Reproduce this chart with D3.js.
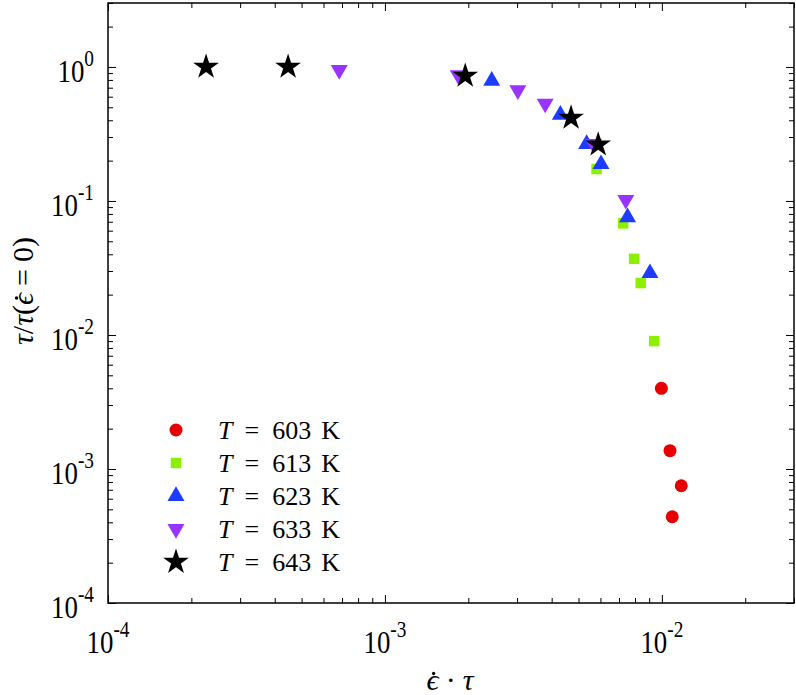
<!DOCTYPE html>
<html><head><meta charset="utf-8">
<script src="https://cdn.jsdelivr.net/npm/d3@7"></script>
<style>body{margin:0;background:#fff}svg{display:block}</style>
</head><body>
<script>
// ---- data ----
const legendTemps = ["603", "613", "623", "633", "643"];
const x603 = [9.96e-3, 1.07e-2, 1.175e-2, 1.09e-2];
const y603 = [4.0e-3, 1.37e-3, 7.5e-4, 4.4e-4];
const x613 = [5.81e-3, 7.25e-3, 7.94e-3, 8.39e-3, 9.38e-3];
const y613 = [0.173, 0.068, 0.037, 0.0244, 0.0090];
const x623 = [2.43e-3, 4.30e-3, 5.35e-3, 6.03e-3, 7.52e-3, 9.06e-3];
const y623 = [0.787, 0.44, 0.266, 0.188, 0.0755, 0.0289];
const x633 = [6.84e-4, 1.84e-3, 3.02e-3, 3.79e-3, 5.66e-3, 7.41e-3];
const y633 = [0.95, 0.87, 0.67, 0.533, 0.267, 0.102];
const x643 = [2.26e-4, 4.47e-4, 1.95e-3, 4.70e-3, 5.89e-3];
const y643 = [1.0, 1.0, 0.857, 0.417, 0.263];
const xDomain = [1e-4, 3e-2];
const yDomain = [1e-4, 3];
const xMajor = [1e-4, 1e-3, 1e-2];
const xMajorExp = ["-4", "-3", "-2"];
const yMajor = [1e-4, 1e-3, 1e-2, 1e-1, 1];
const yMajorExp = ["-4", "-3", "-2", "-1", "0"];

const allX = [x603, x613, x623, x633, x643];
const allY = [y603, y613, y623, y633, y643];
const colors = ["#e60000", "#8cf000", "#1e3cff", "#9933ff", "#000000"];
const shapes = [d3.symbolCircle, d3.symbolSquare, d3.symbolTriangle, d3.symbolTriangle, d3.symbolStar];
const sizes = [133, 110, 125, 125, 205];
const rotations = [0, 0, 0, 180, 0];

const FONT = "'Liberation Serif', 'Times New Roman', Times, 'DejaVu Serif', serif";
const W = 796, H = 695;
const m = {l: 108, t: 3, r: 2, b: 92};
const pw = W - m.l - m.r, ph = H - m.t - m.b;

const svg = d3.select("body").append("svg").attr("width", W).attr("height", H)
  .attr("font-family", FONT).style("font-family", FONT);
const g = svg.append("g").attr("transform", `translate(${m.l},${m.t})`);

const x = d3.scaleLog().domain(xDomain).range([0, pw]);
const y = d3.scaleLog().domain(yDomain).range([ph, 0]);

function minorTicks(dom) {
  const out = [];
  for (let e = Math.floor(Math.log10(dom[0])); e <= Math.ceil(Math.log10(dom[1])); e++) {
    for (let k = 2; k <= 9; k++) {
      const v = k * Math.pow(10, e);
      if (v >= dom[0] * 0.999 && v <= dom[1] * 1.001) out.push(v);
    }
  }
  return out;
}
const xMinor = minorTicks(xDomain), yMinor = minorTicks(yDomain);

function addAxis(axisGen, transform) {
  const a = g.append("g").attr("transform", transform).call(axisGen);
  a.selectAll("text").remove();
  a.select(".domain").remove();
  a.selectAll("line").attr("stroke", "#000").attr("stroke-width", 1);
  return a;
}
addAxis(d3.axisBottom(x).tickValues(xMajor).tickSize(-8).tickFormat(""), `translate(0,${ph})`);
addAxis(d3.axisBottom(x).tickValues(xMinor).tickSize(-5).tickFormat(""), `translate(0,${ph})`);
addAxis(d3.axisTop(x).tickValues(xMajor).tickSize(-8).tickFormat(""), `translate(0,0)`);
addAxis(d3.axisTop(x).tickValues(xMinor).tickSize(-5).tickFormat(""), `translate(0,0)`);
addAxis(d3.axisLeft(y).tickValues(yMajor).tickSize(-8).tickFormat(""), `translate(0,0)`);
addAxis(d3.axisLeft(y).tickValues(yMinor).tickSize(-5).tickFormat(""), `translate(0,0)`);
addAxis(d3.axisRight(y).tickValues(yMajor).tickSize(-8).tickFormat(""), `translate(${pw},0)`);
addAxis(d3.axisRight(y).tickValues(yMinor).tickSize(-5).tickFormat(""), `translate(${pw},0)`);

g.append("rect").attr("x", 0).attr("y", 0).attr("width", pw).attr("height", ph)
  .attr("fill", "none").attr("stroke", "#000").attr("stroke-width", 1.5);

// tick labels (slightly condensed serif, like the reference)
function powLabel(px, py, exp, anchor) {
  const t = g.append("text").attr("transform", `translate(${px},${py}) scale(0.84,1)`)
    .attr("text-anchor", anchor).attr("font-size", 32);
  t.append("tspan").text("10");
  t.append("tspan").attr("dy", -16).attr("font-size", 23).text(exp);
}
xMajor.forEach((v, i) => powLabel(x(v), ph + 50, xMajorExp[i], "middle"));
yMajor.forEach((v, i) => powLabel(-14, y(v) + 15, yMajorExp[i], "end"));

// data points
const pts = g.append("g");
allX.forEach((xs, s) => {
  const sym = d3.symbol().type(shapes[s]).size(sizes[s]);
  pts.selectAll(null).data(xs.map((xv, i) => [xv, allY[s][i]])).join("path")
    .attr("d", sym)
    .attr("fill", colors[s])
    .attr("transform", d => `translate(${x(d[0])},${y(d[1])}) rotate(${rotations[s]})`);
});

// legend
const lg = svg.append("g");
legendTemps.forEach((tmp, s) => {
  const cy = 430 + s * 33;
  const sym = d3.symbol().type(shapes[s]).size(sizes[s]);
  lg.append("path").attr("d", sym).attr("fill", colors[s])
    .attr("transform", `translate(176,${cy}) rotate(${rotations[s]})`);
  const t = lg.append("text").attr("x", 218).attr("y", cy + 9).attr("font-size", 26);
  t.append("tspan").attr("font-style", "italic").text("T");
  t.append("tspan").attr("dx", 12).text("=");
  t.append("tspan").attr("dx", 13).text(tmp);
  t.append("tspan").attr("dx", 10).text("K");
});

// axis titles
const xt = svg.append("text").attr("x", 450).attr("y", 690).attr("text-anchor", "middle").attr("font-size", 30);
xt.append("tspan").attr("font-style", "italic").text("\u03F5");
xt.append("tspan").attr("dx", 7).text("\u00B7");
xt.append("tspan").attr("dx", 7).attr("font-style", "italic").text("\u03C4");
try {
  const ext = xt.node().getExtentOfChar(0);
  svg.append("circle").attr("cx", ext.x + ext.width / 2 + 1).attr("cy", ext.y + ext.height * 0.32)
    .attr("r", 1.7).attr("fill", "#000");
} catch (e) {}

const yt = svg.append("text").attr("transform", "translate(33,291) rotate(-90)").attr("text-anchor", "middle")
  .attr("font-size", 30);
yt.append("tspan").attr("font-style", "italic").text("\u03C4");
yt.append("tspan").text("/");
yt.append("tspan").attr("font-style", "italic").text("\u03C4");
yt.append("tspan").text("(");
yt.append("tspan").attr("font-style", "italic").text("\u03F5");
yt.append("tspan").attr("dx", 7).text("=");
yt.append("tspan").attr("dx", 7).text("0)");
try {
  const ext = yt.node().getExtentOfChar(4);
  svg.append("circle").attr("transform", "translate(33,291) rotate(-90)")
    .attr("cx", ext.x + ext.width / 2 + 1).attr("cy", ext.y + ext.height * 0.32)
    .attr("r", 1.7).attr("fill", "#000");
} catch (e) {}
</script>
</body></html>
